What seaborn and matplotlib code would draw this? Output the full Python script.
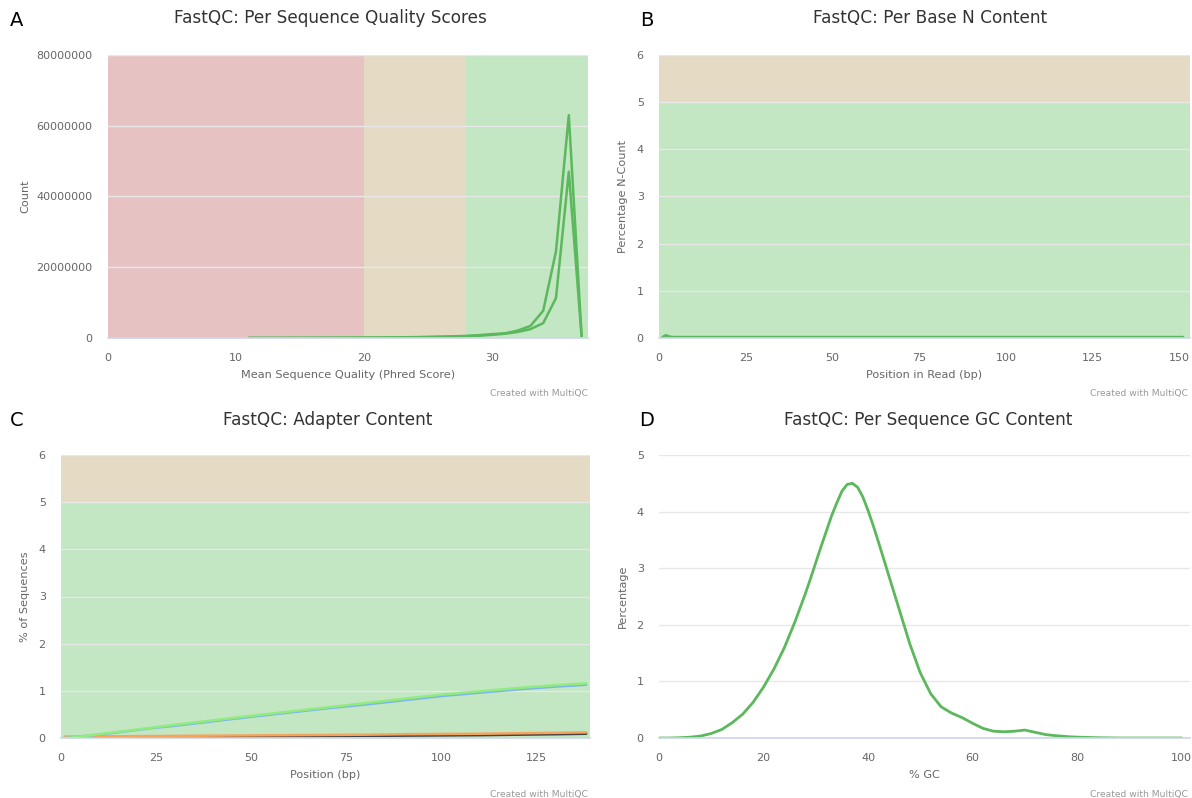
import numpy as np
import pandas as pd
import matplotlib
matplotlib.use("Agg")
import matplotlib.pyplot as plt
import matplotlib.ticker as mticker
import seaborn as sns

# ---------------- data ----------------
# A: Per Sequence Quality Scores (counts, millions)
qual_x = [11, 12, 13, 14, 15, 16, 17, 18, 19, 20, 21, 22, 23, 24, 25, 26, 27, 28, 29, 30,
          31, 32, 33, 34, 35, 36, 37]
qual_s1_m = [0.02, 0.02, 0.03, 0.03, 0.04, 0.05, 0.06, 0.07, 0.09, 0.11, 0.13, 0.16, 0.2, 0.25,
             0.3, 0.38, 0.47, 0.6, 0.8, 1.1, 1.3, 2.1, 3.4, 7.7, 24.5, 63.0, 0.6]
qual_s2_m = [0.02, 0.02, 0.02, 0.03, 0.03, 0.04, 0.05, 0.06, 0.07, 0.09, 0.11, 0.13, 0.16, 0.2,
             0.25, 0.3, 0.38, 0.48, 0.65, 0.9, 1.2, 1.7, 2.5, 4.2, 11.3, 47.0, 0.4]

# B: Per Base N Content
ncont_x = [1, 2, 3, 4, 5, 7, 10, 15, 20, 30, 40, 50, 60, 70, 80, 90, 100, 110, 120, 130, 140, 150, 151]
ncont_s1 = [0.02, 0.06, 0.03, 0.02, 0.02, 0.02, 0.02, 0.02, 0.02, 0.02, 0.02, 0.02, 0.02, 0.02,
            0.02, 0.02, 0.02, 0.02, 0.02, 0.02, 0.02, 0.02, 0.02]
ncont_s2 = [0.01, 0.04, 0.02, 0.01, 0.01, 0.01, 0.01, 0.01, 0.01, 0.01, 0.01, 0.01, 0.01, 0.01,
            0.01, 0.01, 0.01, 0.01, 0.01, 0.01, 0.01, 0.01, 0.01]

# C: Adapter Content
adapt_x = [1, 3, 5, 10, 15, 20, 25, 30, 40, 50, 60, 70, 80, 90, 100, 110, 120, 130, 138]
adapt_green = [0.0, 0.01, 0.03, 0.08, 0.13, 0.18, 0.23, 0.28, 0.375, 0.47, 0.56, 0.65, 0.74,
               0.83, 0.92, 0.99, 1.06, 1.12, 1.16]
adapt_blue = [0.0, 0.01, 0.03, 0.07, 0.12, 0.17, 0.22, 0.26, 0.355, 0.45, 0.54, 0.63, 0.71,
              0.8, 0.89, 0.96, 1.03, 1.09, 1.13]
adapt_orange = [0.03, 0.03, 0.03, 0.035, 0.035, 0.04, 0.04, 0.045, 0.05, 0.055, 0.06, 0.065,
                0.07, 0.08, 0.085, 0.09, 0.1, 0.11, 0.12]
adapt_dark = [0.0, 0.0, 0.005, 0.01, 0.012, 0.015, 0.018, 0.02, 0.025, 0.03, 0.035, 0.04,
              0.045, 0.05, 0.055, 0.06, 0.07, 0.08, 0.09]

# D: Per Sequence GC Content
gc_x = [0, 2, 4, 6, 8, 10, 12, 14, 16, 18, 20, 22, 24, 26, 28, 29, 30, 31, 32, 33, 34, 35, 36,
        37, 38, 39, 40, 41, 42, 43, 44, 45, 46, 48, 50, 52, 54, 56, 58, 60, 62, 64, 66, 68, 70,
        72, 74, 76, 78, 80, 84, 88, 92, 96, 100]
gc_y = [0, 0, 0.005, 0.015, 0.035, 0.08, 0.15, 0.27, 0.42, 0.63, 0.9, 1.22, 1.6, 2.05, 2.55,
        2.82, 3.1, 3.38, 3.65, 3.92, 4.15, 4.36, 4.48, 4.5, 4.43, 4.26, 4.02, 3.75, 3.46, 3.16,
        2.86, 2.56, 2.26, 1.66, 1.15, 0.78, 0.55, 0.44, 0.36, 0.26, 0.17, 0.12, 0.11, 0.12,
        0.14, 0.1, 0.06, 0.04, 0.025, 0.015, 0.005, 0, 0, 0, 0]

# ---------------- style ----------------
sns.set_style("white")
plt.rcParams['font.family'] = ['DejaVu Sans']

W, H = 1192, 798
fig = plt.figure(figsize=(W / 100, H / 100), dpi=100)

RED = '#e6c2c2'
BEIGE = '#e5dbc4'
GREEN_BG = '#c3e6c3'
LINE_G = '#5cb85c'
GRID = '#e8e8e8'
AXIS = '#ccd6eb'
TXT = '#666666'


def make_ax(l, t, r, b):
    ax = fig.add_axes([l / W, 1 - b / H, (r - l) / W, (b - t) / H])
    for s in ['top', 'right', 'left']:
        ax.spines[s].set_visible(False)
    ax.spines['bottom'].set_color(AXIS)
    ax.spines['bottom'].set_linewidth(1.2)
    ax.spines['bottom'].set_zorder(5)
    ax.set_axisbelow(True)
    ax.grid(axis='y', color=GRID, lw=1.0)
    ax.grid(axis='x', visible=False)
    ax.tick_params(axis='x', direction='out', length=6, width=1, color=AXIS,
                   labelsize=8, labelcolor=TXT, pad=5)
    ax.tick_params(axis='y', length=0, labelsize=8, labelcolor=TXT, pad=11)
    ax.set_facecolor('white')
    return ax


def labels(ax, xl, yl, axw_px, axh_px, ylab_x_px, l):
    ax.set_xlabel(xl, fontsize=8.1, color=TXT)
    ax.set_ylabel(yl, fontsize=8.1, color=TXT)
    ax.xaxis.set_label_coords(0.5, -32 / axh_px)
    ax.yaxis.set_label_coords((ylab_x_px + 6 - l) / axw_px, 0.5)


# ---------- A ----------
axA = make_ax(108, 55, 588, 338)
axA.axvspan(0, 20, color=RED, zorder=0, lw=0)
axA.axvspan(20, 28, color=BEIGE, zorder=0, lw=0)
axA.axvspan(28, 37.5, color=GREEN_BG, zorder=0, lw=0)
dfA = pd.DataFrame({
    'x': qual_x * 2,
    'y': [v * 1e6 for v in qual_s1_m] + [v * 1e6 for v in qual_s2_m],
    's': ['s1'] * len(qual_x) + ['s2'] * len(qual_x)})
sns.lineplot(data=dfA, x='x', y='y', hue='s', palette=[LINE_G, LINE_G], legend=False,
             ax=axA, lw=1.8, zorder=3)
axA.set_xlim(0, 37.5)
axA.set_ylim(0, 80e6)
axA.set_xticks([0, 10, 20, 30])
axA.set_yticks([0, 20e6, 40e6, 60e6, 80e6])
axA.yaxis.set_major_formatter(mticker.StrMethodFormatter('{x:.0f}'))
labels(axA, 'Mean Sequence Quality (Phred Score)', 'Count', 480, 283, 24, 108)

# ---------- B ----------
axB = make_ax(659, 55, 1190, 338)
axB.axhspan(0, 5, color=GREEN_BG, zorder=0, lw=0)
axB.axhspan(5, 6, color=BEIGE, zorder=0, lw=0)
dfB = pd.DataFrame({
    'x': ncont_x * 2,
    'y': ncont_s1 + ncont_s2,
    's': ['s1'] * len(ncont_x) + ['s2'] * len(ncont_x)})
sns.lineplot(data=dfB, x='x', y='y', hue='s', palette=[LINE_G, LINE_G], legend=False,
             ax=axB, lw=1.8, zorder=3)
axB.set_xlim(0, 153)
axB.set_ylim(0, 6)
axB.set_xticks([0, 25, 50, 75, 100, 125, 150])
axB.set_yticks([0, 1, 2, 3, 4, 5, 6])
labels(axB, 'Position in Read (bp)', 'Percentage N-Count', 531, 283, 622, 659)

# ---------- C ----------
axC = make_ax(61, 455, 590, 738)
axC.axhspan(0, 5, color=GREEN_BG, zorder=0, lw=0)
axC.axhspan(5, 6, color=BEIGE, zorder=0, lw=0)
n = len(adapt_x)
dfC = pd.DataFrame({
    'x': adapt_x * 4,
    'y': adapt_dark + adapt_orange + adapt_blue + adapt_green,
    's': ['dark'] * n + ['orange'] * n + ['blue'] * n + ['green'] * n})
sns.lineplot(data=dfC, x='x', y='y', hue='s',
             palette={'dark': '#434348', 'orange': '#f7a35c', 'blue': '#7cb5ec', 'green': '#90ed7d'},
             legend=False, ax=axC, lw=1.8, zorder=3)
axC.set_xlim(0, 139)
axC.set_ylim(0, 6)
axC.set_xticks([0, 25, 50, 75, 100, 125])
axC.set_yticks([0, 1, 2, 3, 4, 5, 6])
labels(axC, 'Position (bp)', '% of Sequences', 529, 283, 24, 61)

# ---------- D ----------
axD = make_ax(659, 455, 1190, 738)
dfD = pd.DataFrame({'x': gc_x, 'y': gc_y})
sns.lineplot(data=dfD, x='x', y='y', color=LINE_G, ax=axD, lw=2.0, zorder=3)
axD.set_xlim(0, 101.6)
axD.set_ylim(0, 5)
axD.set_xticks([0, 20, 40, 60, 80, 100])
axD.set_yticks([0, 1, 2, 3, 4, 5])
labels(axD, '% GC', 'Percentage', 531, 283, 622, 659)

# ---------- titles, letters, credits ----------
def ftext(x, y, s, **kw):
    fig.text(x / W, 1 - y / H, s, **kw)

ftext(330, 18, 'FastQC: Per Sequence Quality Scores', ha='center', va='center', fontsize=12.2, color='#333333')
ftext(930, 18, 'FastQC: Per Base N Content', ha='center', va='center', fontsize=12.2, color='#333333')
ftext(328, 420, 'FastQC: Adapter Content', ha='center', va='center', fontsize=12.2, color='#333333')
ftext(928, 420, 'FastQC: Per Sequence GC Content', ha='center', va='center', fontsize=12.2, color='#333333')

for lx, ly, lt in [(17, 20, 'A'), (647, 20, 'B'), (17, 420, 'C'), (647, 420, 'D')]:
    ftext(lx, ly, lt, ha='center', va='center', fontsize=14, color='black')

for cx, cy in [(588, 394), (1188, 394), (588, 794), (1188, 794)]:
    ftext(cx, cy, 'Created with MultiQC', ha='right', va='center', fontsize=6.6, color='#999999')

fig.savefig('out.png', dpi=100, facecolor='white')
